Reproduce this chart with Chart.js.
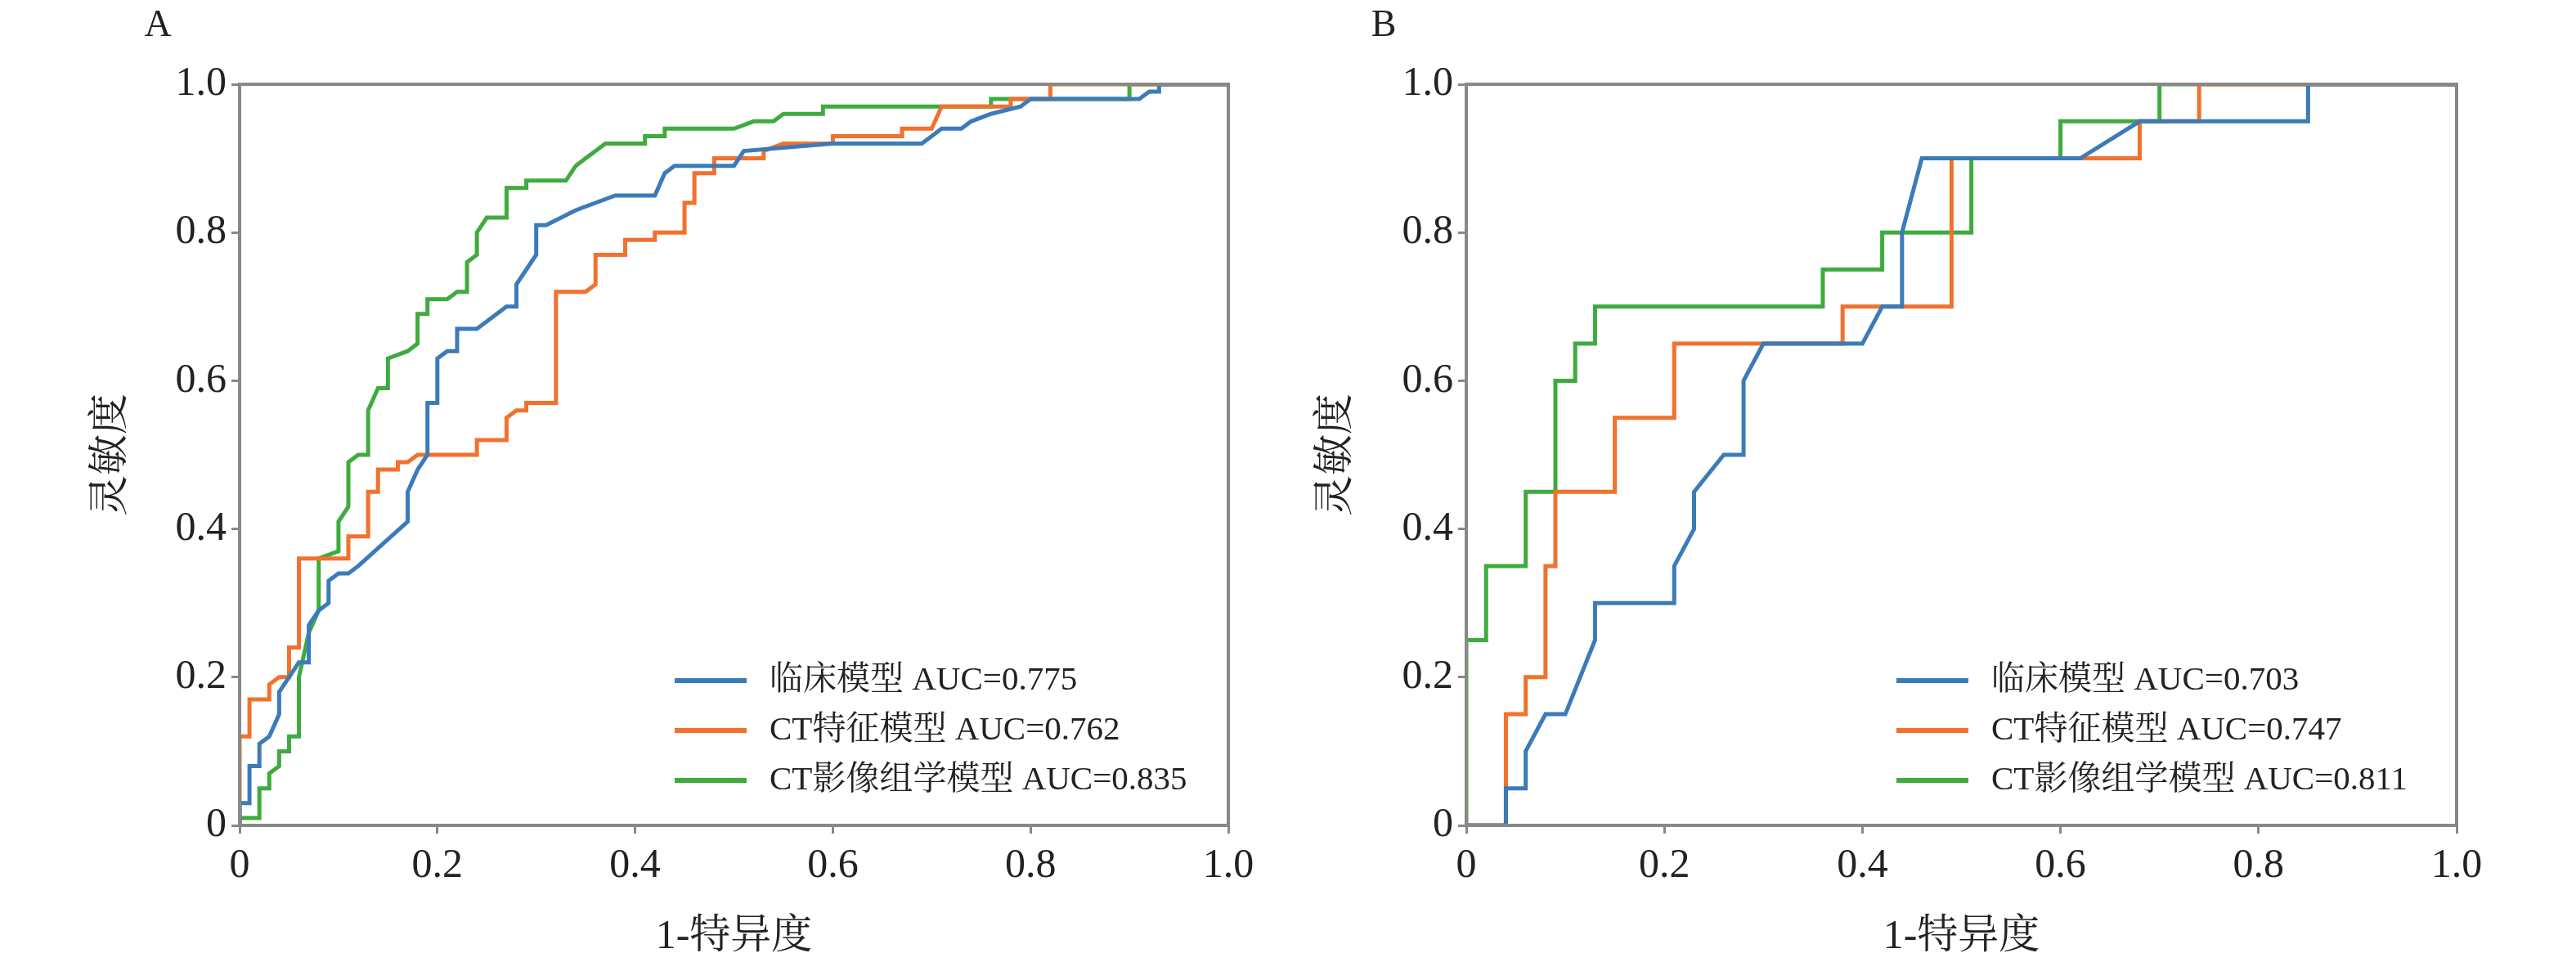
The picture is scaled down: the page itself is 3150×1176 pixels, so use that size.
<!DOCTYPE html>
<html>
<head>
<meta charset="utf-8">
<script src="https://cdn.jsdelivr.net/npm/chart.js@4/dist/chart.umd.min.js"></script>
<style>
  body { margin: 0; background: #fff; width: 3150px; height: 1176px; position: relative; overflow: hidden; }
  .panel { position: absolute; top: 0; width: 1575px; height: 1176px; }
</style>
</head>
<body>
<div class="panel" style="left:0"><canvas id="chartA"></canvas></div>
<div class="panel" style="left:1575px"><canvas id="chartB"></canvas></div>
<script>
// ROC points [1-specificity, sensitivity]
const clinicalA = [[0,0],[0,0.03],[0.01,0.03],[0.01,0.08],[0.02,0.08],[0.02,0.11],[0.03,0.12],[0.04,0.15],[0.04,0.18],[0.05,0.2],[0.06,0.22],[0.07,0.22],[0.07,0.27],[0.08,0.29],[0.09,0.3],[0.09,0.33],[0.1,0.34],[0.11,0.34],[0.12,0.35],[0.17,0.41],[0.17,0.45],[0.18,0.48],[0.19,0.5],[0.19,0.57],[0.2,0.57],[0.2,0.63],[0.21,0.64],[0.22,0.64],[0.22,0.67],[0.24,0.67],[0.27,0.7],[0.28,0.7],[0.28,0.73],[0.3,0.77],[0.3,0.81],[0.31,0.81],[0.34,0.83],[0.38,0.85],[0.42,0.85],[0.43,0.88],[0.44,0.89],[0.5,0.89],[0.51,0.91],[0.6,0.92],[0.69,0.92],[0.7,0.93],[0.71,0.94],[0.73,0.94],[0.74,0.95],[0.76,0.96],[0.79,0.97],[0.8,0.98],[0.91,0.98],[0.92,0.99],[0.93,0.99],[0.93,1],[1,1]];
const ctFeatA = [[0,0],[0,0.12],[0.01,0.12],[0.01,0.17],[0.03,0.17],[0.03,0.19],[0.04,0.2],[0.05,0.2],[0.05,0.24],[0.06,0.24],[0.06,0.36],[0.11,0.36],[0.11,0.39],[0.13,0.39],[0.13,0.45],[0.14,0.45],[0.14,0.48],[0.16,0.48],[0.16,0.49],[0.17,0.49],[0.18,0.5],[0.24,0.5],[0.24,0.52],[0.27,0.52],[0.27,0.55],[0.28,0.56],[0.29,0.56],[0.29,0.57],[0.32,0.57],[0.32,0.72],[0.35,0.72],[0.36,0.73],[0.36,0.77],[0.39,0.77],[0.39,0.79],[0.42,0.79],[0.42,0.8],[0.45,0.8],[0.45,0.84],[0.46,0.84],[0.46,0.88],[0.48,0.88],[0.48,0.9],[0.53,0.9],[0.53,0.91],[0.55,0.92],[0.6,0.92],[0.6,0.93],[0.67,0.93],[0.67,0.94],[0.7,0.94],[0.71,0.97],[0.72,0.97],[0.78,0.97],[0.78,0.98],[0.82,0.98],[0.82,1],[1,1]];
const radiomicsA = [[0,0],[0,0.01],[0.02,0.01],[0.02,0.05],[0.03,0.05],[0.03,0.07],[0.04,0.08],[0.04,0.1],[0.05,0.1],[0.05,0.12],[0.06,0.12],[0.06,0.2],[0.07,0.26],[0.08,0.29],[0.08,0.36],[0.1,0.37],[0.1,0.41],[0.11,0.43],[0.11,0.49],[0.12,0.5],[0.13,0.5],[0.13,0.56],[0.14,0.59],[0.15,0.59],[0.15,0.63],[0.17,0.64],[0.18,0.65],[0.18,0.69],[0.19,0.69],[0.19,0.71],[0.21,0.71],[0.22,0.72],[0.23,0.72],[0.23,0.76],[0.24,0.77],[0.24,0.8],[0.25,0.82],[0.27,0.82],[0.27,0.86],[0.29,0.86],[0.29,0.87],[0.33,0.87],[0.34,0.89],[0.35,0.9],[0.36,0.91],[0.37,0.92],[0.41,0.92],[0.41,0.93],[0.43,0.93],[0.43,0.94],[0.5,0.94],[0.52,0.95],[0.54,0.95],[0.55,0.96],[0.59,0.96],[0.59,0.97],[0.76,0.97],[0.76,0.98],[0.9,0.98],[0.9,1],[1,1]];

const clinicalB = [[0,0],[0.04,0],[0.04,0.05],[0.06,0.05],[0.06,0.1],[0.08,0.15],[0.1,0.15],[0.13,0.25],[0.13,0.3],[0.21,0.3],[0.21,0.35],[0.23,0.4],[0.23,0.45],[0.26,0.5],[0.28,0.5],[0.28,0.6],[0.3,0.65],[0.4,0.65],[0.42,0.7],[0.44,0.7],[0.44,0.8],[0.46,0.9],[0.62,0.9],[0.68,0.95],[0.85,0.95],[0.85,1],[1,1]];
const ctFeatB = [[0,0],[0.04,0],[0.04,0.15],[0.06,0.15],[0.06,0.2],[0.08,0.2],[0.08,0.35],[0.09,0.35],[0.09,0.45],[0.15,0.45],[0.15,0.55],[0.21,0.55],[0.21,0.65],[0.38,0.65],[0.38,0.7],[0.49,0.7],[0.49,0.9],[0.68,0.9],[0.68,0.95],[0.74,0.95],[0.74,1],[1,1]];
const radiomicsB = [[0,0],[0,0.25],[0.02,0.25],[0.02,0.35],[0.06,0.35],[0.06,0.45],[0.09,0.45],[0.09,0.6],[0.11,0.6],[0.11,0.65],[0.13,0.65],[0.13,0.7],[0.36,0.7],[0.36,0.75],[0.42,0.75],[0.42,0.8],[0.51,0.8],[0.51,0.9],[0.6,0.9],[0.6,0.95],[0.7,0.95],[0.7,1],[1,1]];

const labelsA = ['临床模型 AUC=0.775', 'CT特征模型 AUC=0.762', 'CT影像组学模型 AUC=0.835'];
const labelsB = ['临床模型 AUC=0.703', 'CT特征模型 AUC=0.747', 'CT影像组学模型 AUC=0.811'];
const colors = ['#3b7bb9', '#f0722d', '#3fab3f'];
const FONT = '"Liberation Serif", "Noto Serif CJK SC", serif';

const framePlugin = {
    id: 'frame',
    afterDraw(chart, args, opts) {
        const { ctx, chartArea: a } = chart;
        ctx.save();
        ctx.strokeStyle = '#888';
        ctx.lineWidth = 4;
        ctx.strokeRect(a.left, a.top, a.right - a.left, a.bottom - a.top);
        // legend
        ctx.font = '41px ' + FONT;
        ctx.textBaseline = 'middle';
        chart.data.datasets.forEach((ds, i) => {
            const y = opts.legendY + i * 61;
            ctx.strokeStyle = ds.borderColor;
            ctx.lineWidth = 6;
            ctx.beginPath();
            ctx.moveTo(opts.legendX, y);
            ctx.lineTo(opts.legendX + 88, y);
            ctx.stroke();
            ctx.fillStyle = '#222';
            ctx.fillText(ds.label, opts.legendX + 116, y);
        });
        // titles
        ctx.fillStyle = '#222';
        ctx.textAlign = 'center';
        ctx.font = '50px ' + FONT;
        ctx.fillText('1-特异度', (a.left + a.right) / 2, 1146);
        ctx.save();
        ctx.translate(opts.yTitleX, (a.top + a.bottom) / 2);
        ctx.rotate(-Math.PI / 2);
        ctx.fillText('灵敏度', 0, 0);
        ctx.restore();
        ctx.font = '46px ' + FONT;
        ctx.fillText(opts.letter, opts.letterX, 32);
        ctx.restore();
    }
};

function createRoc(elementId, series, labels, o) {
    const ctx = document.getElementById(elementId);
    const tickFmt = v => (v === 0 ? '0' : v.toFixed(1));
    new Chart(ctx, {
        type: 'scatter',
        data: {
            datasets: series.map((s, i) => ({
                label: labels[i],
                data: s.map(p => ({ x: p[0], y: p[1] })),
                showLine: true,
                borderColor: colors[i],
                borderWidth: 5,
                pointRadius: 0,
                tension: 0
            }))
        },
        options: {
            responsive: false,
            animation: false,
            layout: { padding: { top: 103, right: o.padRight, left: 0, bottom: 0 } },
            plugins: {
                legend: { display: false },
                tooltip: { enabled: false },
                frame: o
            },
            scales: {
                x: {
                    type: 'linear', min: 0, max: 1,
                    afterFit: s => { s.height = 167; },
                    ticks: { stepSize: 0.2, callback: tickFmt, color: '#222', padding: 10,
                             font: { family: FONT, size: 50 } },
                    grid: { drawOnChartArea: false, tickLength: 10, color: '#888', lineWidth: 3 },
                    border: { color: '#888', width: 4 }
                },
                y: {
                    type: 'linear', min: 0, max: 1,
                    afterFit: s => { s.width = o.yWidth; },
                    ticks: { stepSize: 0.2, callback: tickFmt, color: '#222', padding: 6,
                             font: { family: FONT, size: 50 } },
                    grid: { drawOnChartArea: false, tickLength: 10, color: '#888', lineWidth: 3 },
                    border: { color: '#888', width: 4 }
                }
            }
        },
        plugins: [framePlugin]
    });
}

function sizeCanvas(id) {
    const c = document.getElementById(id);
    c.width = 1575; c.height = 1176;
    c.style.width = '1575px'; c.style.height = '1176px';
}
sizeCanvas('chartA');
sizeCanvas('chartB');

createRoc('chartA', [clinicalA, ctFeatA, radiomicsA], labelsA,
    { padRight: 73, yWidth: 293, legendX: 825, legendY: 832, yTitleX: 137, letter: 'A', letterX: 193 });
createRoc('chartB', [clinicalB, ctFeatB, radiomicsB], labelsB,
    { padRight: 146, yWidth: 218, legendX: 744, legendY: 832, yTitleX: 60, letter: 'B', letterX: 117 });
</script>
</body>
</html>
